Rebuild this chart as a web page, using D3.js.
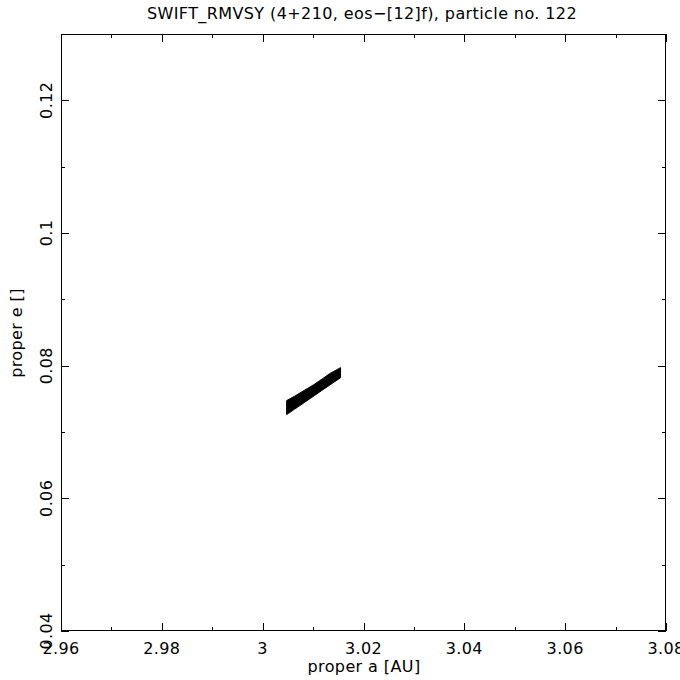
<!DOCTYPE html>
<html><head><meta charset="utf-8">
<script src="https://cdn.jsdelivr.net/npm/d3@7"></script>
<style>body{margin:0;background:#fff}text{font-family:"DejaVu Sans",sans-serif;fill:#000}</style>
</head><body><svg id="c" width="680" height="680"></svg>
<script>
const titleText = "SWIFT_RMVSY (4+210, eos\u2212[12]f), particle no. 122";
const xLabel = "proper a [AU]";
const yLabel = "proper e []";
const xDomain = [2.96, 3.08];
const yDomain = [0.04, 0.13];
const xMajorTicks = [2.96, 2.98, 3, 3.02, 3.04, 3.06, 3.08];
const xTickLabels = ["2.96", "2.98", "3", "3.02", "3.04", "3.06", "3.08"];
const xMinorTicks = [2.97, 2.99, 3.01, 3.03, 3.05, 3.07];
const yMajorTicks = [0.04, 0.06, 0.08, 0.1, 0.12];
const yTickLabels = ["0.04", "0.06", "0.08", "0.1", "0.12"];
const yMinorTicks = [0.05, 0.07, 0.09, 0.11, 0.13];
// band of proper elements (a, e range)
const properA = [3.00475, 3.00634, 3.00832, 3.0103, 3.01129, 3.01188, 3.01327, 3.01545];
const eUpper  = [0.07473, 0.07540, 0.07631, 0.07721, 0.07774, 0.07804, 0.07879, 0.07970];
const eLower  = [0.07262, 0.07345, 0.07447, 0.07551, 0.07602, 0.07634, 0.07706, 0.07819];

const svg = d3.select("#c");
const L = 61, R = 666, T = 34, B = 631;
const x = d3.scaleLinear().domain(xDomain).range([L, R]);
const y = d3.scaleLinear().domain(yDomain).range([B, T]);

// data band
const band = properA.map((a, i) => ({a, lo: eLower[i], hi: eUpper[i]}));
svg.append("path").datum(band)
  .attr("d", d3.area().x(d => x(d.a)).y0(d => y(d.lo)).y1(d => y(d.hi)))
  .attr("fill", "#000").attr("stroke", "#000").attr("stroke-width", 1);

// frame
svg.append("rect").attr("x", L + 0.5).attr("y", T + 0.5)
  .attr("width", R - L - 1).attr("height", B - T - 1)
  .attr("fill", "none").attr("stroke", "#000").attr("stroke-width", 1)
  .attr("shape-rendering", "crispEdges");

const g = svg.append("g").attr("stroke", "#000").attr("stroke-width", 1).attr("shape-rendering", "crispEdges");
function xt(vals, len) {
  vals.forEach(v => {
    const px = Math.round(x(v)) + 0.5;
    g.append("line").attr("x1", px).attr("x2", px).attr("y1", B).attr("y2", B - len);
    g.append("line").attr("x1", px).attr("x2", px).attr("y1", T).attr("y2", T + len);
  });
}
function yt(vals, len) {
  vals.forEach(v => {
    const py = Math.round(y(v)) + 0.5;
    g.append("line").attr("y1", py).attr("y2", py).attr("x1", L).attr("x2", L + len);
    g.append("line").attr("y1", py).attr("y2", py).attr("x1", R).attr("x2", R - len);
  });
}
xt(xMajorTicks, 8); xt(xMinorTicks, 4);
yt(yMajorTicks, 8); yt(yMinorTicks, 4);

// tick labels
xMajorTicks.forEach((v, i) => {
  svg.append("text").attr("x", x(v)).attr("y", 654)
    .attr("text-anchor", "middle").attr("font-size", 16).attr("letter-spacing", 0.4).text(xTickLabels[i]);
});
yMajorTicks.forEach((v, i) => {
  svg.append("text").attr("transform", `translate(52,${y(v)}) rotate(-90)`)
    .attr("text-anchor", "middle").attr("font-size", 16).attr("letter-spacing", 0.4).text(yTickLabels[i]);
});

svg.append("text").attr("x", 362).attr("y", 19).attr("text-anchor", "middle")
  .attr("font-size", 16).attr("letter-spacing", 0.4).text(titleText);
svg.append("text").attr("x", 364).attr("y", 672).attr("text-anchor", "middle")
  .attr("font-size", 16).attr("letter-spacing", 0.4).text(xLabel);
svg.append("text").attr("transform", `translate(22,333) rotate(-90)`)
  .attr("text-anchor", "middle").attr("font-size", 16).attr("letter-spacing", 0.4).text(yLabel);
</script></body></html>
